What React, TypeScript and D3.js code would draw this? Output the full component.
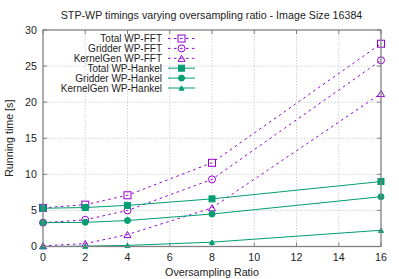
import React from "react";
import * as d3 from "d3";

const xValues = [0, 2, 4, 8, 16];
const totalFFT = [5.35, 5.8, 7.1, 11.6, 28.1];
const gridderFFT = [3.3, 3.7, 5.0, 9.3, 25.8];
const kernelFFT = [0.1, 0.4, 1.65, 5.35, 21.2];
const totalHankel = [5.3, 5.4, 5.7, 6.6, 9.0];
const gridderHankel = [3.3, 3.35, 3.6, 4.5, 6.9];
const kernelHankel = [0.0, 0.05, 0.15, 0.6, 2.25];

const xTicks = [0, 2, 4, 6, 8, 10, 12, 14, 16];
const yTicks = [0, 5, 10, 15, 20, 25, 30];

const seriesNames = [
  "Total WP-FFT",
  "Gridder WP-FFT",
  "KernelGen WP-FFT",
  "Total WP-Hankel",
  "Gridder WP-Hankel",
  "KernelGen WP-Hankel",
];

const PURPLE = "#9400d3";
const GREEN = "#009e73";
const FONT = "'Liberation Sans', Arial, sans-serif";
const FS = 10.7;
const LFS = 10;

type Shape = "square" | "circle" | "triangle";

function Marker({ x, y, shape, filled, color }: { x: number; y: number; shape: Shape; filled: boolean; color: string }) {
  const fill = filled ? color : "none";
  const sw = 1;
  if (shape === "square") {
    const s = filled ? 6 : 7;
    return <rect x={x - s / 2} y={y - s / 2} width={s} height={s} fill={fill} stroke={color} strokeWidth={sw} />;
  }
  if (shape === "circle") {
    const r = filled ? 3 : 3.5;
    return <circle cx={x} cy={y} r={r} fill={fill} stroke={color} strokeWidth={sw} />;
  }
  const s = filled ? 5 : 7;
  const h = s * 0.87;
  const pts = `${x - s / 2},${y + h / 2} ${x + s / 2},${y + h / 2} ${x},${y - h / 2}`;
  return <polygon points={pts} fill={fill} stroke={color} strokeWidth={sw} />;
}

export default function App() {
  const W = 399;
  const H = 279;
  const left = 43;
  const right = 381;
  const top = 30;
  const bottom = 246.5;

  const x = d3.scaleLinear().domain([0, 16]).range([left, right]);
  const y = d3.scaleLinear().domain([0, 30]).range([bottom, top]);

  const series = [
    { name: seriesNames[0], data: totalFFT, color: PURPLE, shape: "square" as Shape, filled: false, dashed: true },
    { name: seriesNames[1], data: gridderFFT, color: PURPLE, shape: "circle" as Shape, filled: false, dashed: true },
    { name: seriesNames[2], data: kernelFFT, color: PURPLE, shape: "triangle" as Shape, filled: false, dashed: true },
    { name: seriesNames[3], data: totalHankel, color: GREEN, shape: "square" as Shape, filled: true, dashed: false },
    { name: seriesNames[4], data: gridderHankel, color: GREEN, shape: "circle" as Shape, filled: true, dashed: false },
    { name: seriesNames[5], data: kernelHankel, color: GREEN, shape: "triangle" as Shape, filled: true, dashed: false },
  ];

  const line = d3
    .line<number>()
    .x((_, i) => x(xValues[i]))
    .y((d) => y(d));

  const legendTextX = 162;
  const legendLineX1 = 168;
  const legendLineX2 = 195;
  const legendY0 = 38.5;
  const legendDy = 9.9;

  return (
    <svg width={W} height={H} style={{ position: "absolute", left: 0, top: 0, background: "#fff" }} fontFamily={FONT}>
      <rect x={0} y={0} width={W} height={H} fill="#fff" />
      {/* grid */}
      {xTicks.map((t) =>
        t === 0 || t === 16 ? null : (
          <line key={"gx" + t} x1={x(t)} x2={x(t)} y1={top} y2={bottom} stroke="#c8c8c8" strokeWidth={0.8} strokeDasharray="1.5,1.5" />
        )
      )}
      {yTicks.map((t) =>
        t === 0 || t === 30 ? null : (
          <line key={"gy" + t} x1={left} x2={right} y1={y(t)} y2={y(t)} stroke="#c8c8c8" strokeWidth={0.8} strokeDasharray="1.5,1.5" />
        )
      )}
      {/* ticks */}
      {xTicks.map((t) => (
        <g key={"tx" + t}>
          <line x1={x(t)} x2={x(t)} y1={bottom} y2={bottom - 4} stroke="#808080" strokeWidth={1} />
          <line x1={x(t)} x2={x(t)} y1={top} y2={top + 4} stroke="#808080" strokeWidth={1} />
          <text x={x(t)} y={bottom + 14} textAnchor="middle" fontSize={FS} fill="#222">
            {t}
          </text>
        </g>
      ))}
      {yTicks.map((t) => (
        <g key={"ty" + t}>
          <line x1={left} x2={left + 4} y1={y(t)} y2={y(t)} stroke="#808080" strokeWidth={1} />
          <line x1={right} x2={right - 4} y1={y(t)} y2={y(t)} stroke="#808080" strokeWidth={1} />
          <text x={left - 6} y={y(t) + 3.8} textAnchor="end" fontSize={FS} fill="#222">
            {t}
          </text>
        </g>
      ))}
      {/* series */}
      {series.map((s) => (
        <g key={s.name}>
          <path d={line(s.data) || ""} fill="none" stroke={s.color} strokeWidth={1} strokeDasharray={s.dashed ? "2.5,3.5" : undefined} />
          {s.data.map((v, i) => (
            <Marker key={i} x={x(xValues[i])} y={y(v)} shape={s.shape} filled={s.filled} color={s.color} />
          ))}
        </g>
      ))}
      {/* border */}
      <rect x={left} y={top} width={right - left} height={bottom - top} fill="none" stroke="#808080" strokeWidth={1.3} />
      {/* legend */}
      {series.map((s, i) => {
        const ly = legendY0 + i * legendDy;
        return (
          <g key={"lg" + i}>
            <text x={legendTextX} y={ly + 3.6} textAnchor="end" fontSize={LFS} fill="#222">
              {s.name}
            </text>
            <line x1={legendLineX1} x2={legendLineX2} y1={ly} y2={ly} stroke={s.color} strokeWidth={1} strokeDasharray={s.dashed ? "2.5,3.5" : undefined} />
            <Marker x={(legendLineX1 + legendLineX2) / 2} y={ly} shape={s.shape} filled={s.filled} color={s.color} />
          </g>
        );
      })}
      {/* title & labels */}
      <text x={211.5} y={18.5} textAnchor="middle" fontSize={FS} fill="#222">
        STP-WP timings varying oversampling ratio - Image Size 16384
      </text>
      <text x={212} y={275.5} textAnchor="middle" fontSize={FS} fill="#222">
        Oversampling Ratio
      </text>
      <text transform={`translate(13,${(top + bottom) / 2}) rotate(-90)`} textAnchor="middle" fontSize={FS} fill="#222">
        Running time [s]
      </text>
    </svg>
  );
}
